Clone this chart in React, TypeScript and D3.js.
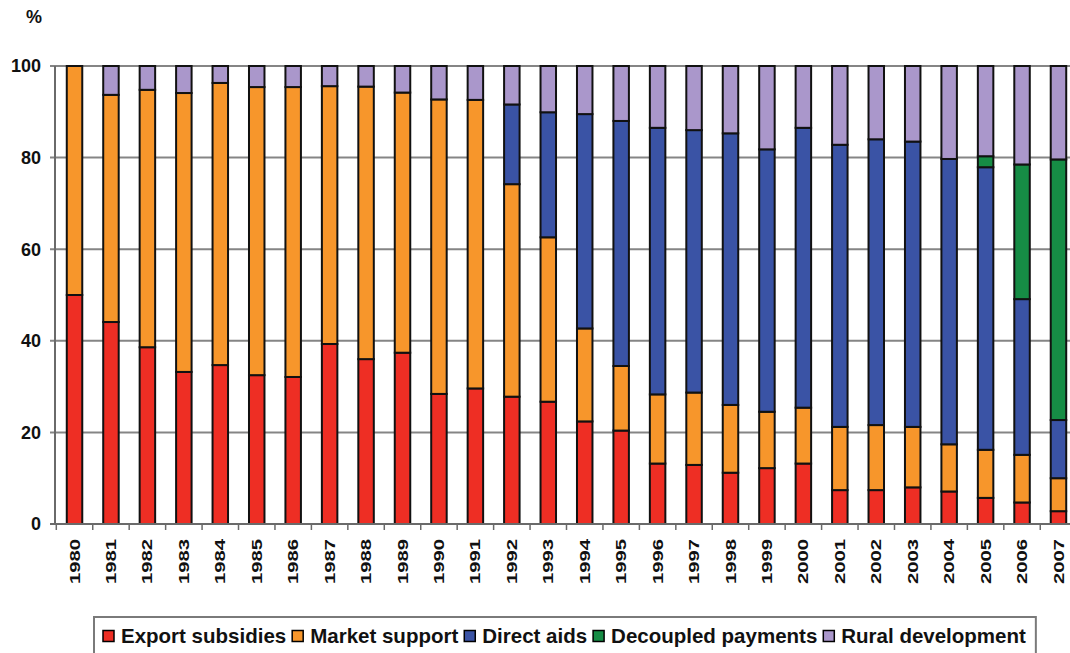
import React, { useLayoutEffect, useRef } from "react";
import * as d3 from "d3";

const years = [
  "1980", "1981", "1982", "1983", "1984", "1985", "1986", "1987", "1988", "1989",
  "1990", "1991", "1992", "1993", "1994", "1995", "1996", "1997", "1998", "1999",
  "2000", "2001", "2002", "2003", "2004", "2005", "2006", "2007",
];

// shares in % per year
const exportSubsidies = [
  50, 44.1, 38.6, 33.2, 34.7, 32.5, 32.1, 39.3, 36.0, 37.4,
  28.4, 29.6, 27.8, 26.7, 22.4, 20.4, 13.2, 12.9, 11.2, 12.2,
  13.2, 7.4, 7.4, 8.0, 7.1, 5.7, 4.7, 2.8,
];
const marketSupport = [
  50, 49.6, 56.2, 60.9, 61.6, 62.9, 63.3, 56.3, 59.5, 56.8,
  64.3, 63.0, 46.4, 35.9, 20.3, 14.1, 15.1, 15.8, 14.8, 12.3,
  12.2, 13.8, 14.2, 13.2, 10.3, 10.5, 10.4, 7.2,
];
const directAids = [
  0, 0, 0, 0, 0, 0, 0, 0, 0, 0,
  0, 0, 17.4, 27.3, 46.8, 53.5, 58.2, 57.3, 59.3, 57.3,
  61.1, 61.6, 62.4, 62.3, 62.3, 61.7, 34.0, 12.7,
];
const decoupledPayments = [
  0, 0, 0, 0, 0, 0, 0, 0, 0, 0,
  0, 0, 0, 0, 0, 0, 0, 0, 0, 0,
  0, 0, 0, 0, 0, 2.4, 29.4, 56.9,
];
const ruralDevelopment = [
  0, 6.3, 5.2, 5.9, 3.7, 4.6, 4.6, 4.4, 4.5, 5.8,
  7.3, 7.4, 8.4, 10.1, 10.5, 12.0, 13.5, 14.0, 14.7, 18.2,
  13.5, 17.2, 16.0, 16.5, 20.3, 19.7, 21.5, 20.4,
];

const seriesNames = [
  "Export subsidies",
  "Market support",
  "Direct aids",
  "Decoupled payments",
  "Rural development",
];
const seriesColors = ["#ee2e24", "#f7962b", "#3a53a5", "#168c45", "#aa97cb"];
const yTicks = [0, 20, 40, 60, 80, 100];

const font = "'Liberation Sans', Arial, sans-serif";

const App = () => {
  const legendRef = useRef<SVGGElement>(null);

  const width = 1070;
  const height = 653;

  const x = d3
    .scaleBand()
    .domain(years)
    .range([56.3, 1076.7])
    .paddingInner(0.575)
    .paddingOuter(0.2875);
  const y = d3.scaleLinear().domain([0, 100]).range([524, 66]);
  const step = x.step();
  const x0 = 56.3;

  const table = years.map((year, i) => ({
    year,
    "Export subsidies": exportSubsidies[i],
    "Market support": marketSupport[i],
    "Direct aids": directAids[i],
    "Decoupled payments": decoupledPayments[i],
    "Rural development": ruralDevelopment[i],
  }));
  const stacked = d3.stack<any>().keys(seriesNames)(table);

  // legend: lay items out by measured text width
  useLayoutEffect(() => {
    const g = d3.select(legendRef.current);
    g.selectAll("*").remove();
    const box = g.append("rect");
    let cx = 103;
    seriesNames.forEach((name, i) => {
      g.append("rect")
        .attr("x", cx)
        .attr("y", 630.5)
        .attr("width", 11)
        .attr("height", 11)
        .attr("fill", seriesColors[i])
        .attr("stroke", "#000")
        .attr("stroke-width", 1.5);
      const t = g
        .append("text")
        .attr("x", cx + 18)
        .attr("y", 643)
        .attr("font-family", font)
        .attr("font-weight", "bold")
        .attr("font-size", 20.5)
        .attr("fill", "#111")
        .text(name);
      const w = (t.node() as SVGTextElement).getComputedTextLength();
      cx += 18 + w + 6;
    });
    box
      .attr("x", 94)
      .attr("y", 617)
      .attr("width", cx + 4 - 94)
      .attr("height", 50)
      .attr("fill", "#fff")
      .attr("stroke", "#7a7a7a")
      .attr("stroke-width", 2);
  }, []);

  return (
    <svg
      width={width}
      height={height}
      style={{ position: "absolute", left: 0, top: 0, background: "#fff" }}
    >
      <text
        x={34}
        y={17}
        dy="0.35em"
        textAnchor="middle"
        fontFamily={font}
        fontWeight="bold"
        fontSize={18}
        fill="#111"
      >
        %
      </text>

      {/* grid + y ticks */}
      {yTicks.map((t) => (
        <g key={t}>
          <line
            x1={50}
            x2={width}
            y1={y(t)}
            y2={y(t)}
            stroke="#858585"
            strokeWidth={2}
          />
          <text
            x={41}
            y={y(t)}
            dy="0.35em"
            textAnchor="end"
            fontFamily={font}
            fontWeight="bold"
            fontSize={18}
            fill="#111"
          >
            {t}
          </text>
        </g>
      ))}
      <line x1={55} x2={55} y1={y(100)} y2={y(0)} stroke="#6a6a6a" strokeWidth={2} />

      {/* bars */}
      {stacked.map((s, si) => (
        <g key={s.key} fill={seriesColors[si]} stroke="#111" strokeWidth={2}>
          {s.map((d, i) =>
            d[1] - d[0] > 0 ? (
              <rect
                key={years[i]}
                x={x(years[i])}
                y={y(d[1])}
                width={x.bandwidth()}
                height={y(d[0]) - y(d[1])}
              />
            ) : null
          )}
        </g>
      ))}

      {/* x axis */}
      <line x1={50} x2={width} y1={y(0)} y2={y(0)} stroke="#6a6a6a" strokeWidth={2} />
      {years.map((yr, i) => (
        <line
          key={"t" + yr}
          x1={x0 + i * step}
          x2={x0 + i * step}
          y1={y(0)}
          y2={y(0) + 6}
          stroke="#6a6a6a"
          strokeWidth={1.5}
        />
      ))}
      {years.map((yr) => {
        const cx = (x(yr) as number) + x.bandwidth() / 2;
        return (
          <text
            key={"l" + yr}
            transform={`translate(${cx},539) rotate(-90)`}
            dy="0.35em"
            textAnchor="end"
            fontFamily={font}
            fontWeight="bold"
            fontSize={14.5}
            textLength={45}
            lengthAdjust="spacingAndGlyphs"
            fill="#111"
          >
            {yr}
          </text>
        );
      })}

      <g ref={legendRef} />
    </svg>
  );
};

export default App;
